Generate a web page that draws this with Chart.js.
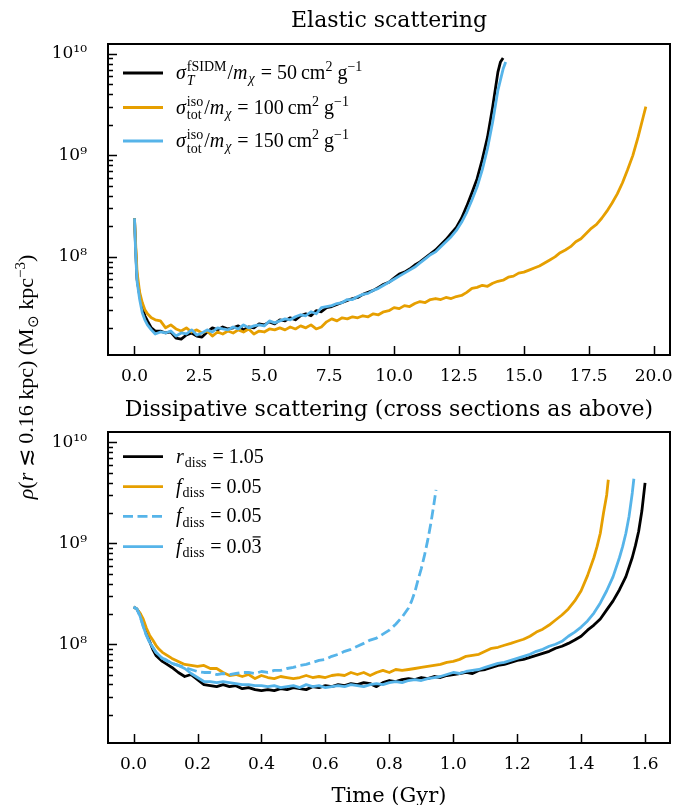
<!DOCTYPE html>
<html>
<head>
<meta charset="utf-8">
<script src="https://cdn.jsdelivr.net/npm/chart.js@4.4.1/dist/chart.umd.min.js"></script>
<style>
  body { margin: 0; background: #fff; }
  #page { position: relative; width: 686px; height: 805px; overflow: hidden; background: #fff; }
  canvas { position: absolute; left: 0; }
  .title { position: absolute; left: 60px; width: 658px; text-align: center;
           font-family: 'DejaVu Serif', serif; font-size: 22px; line-height: 24px; color: #000; white-space: nowrap; }
  #xlabel { position: absolute; left: 108px; width: 562px; top: 783px; text-align: center;
            font-family: 'DejaVu Serif', serif; font-size: 21px; line-height: 24px; }
  #ylabel { position: absolute; width: 320px; left: -134px; top: 365px; height: 24px; line-height: 24px;
            text-align: center; transform: rotate(-90deg); white-space: nowrap;
            font-family: 'Liberation Serif', serif; font-size: 22px; }
  #ylabel sub, #ylabel sup { font-size: 15px; line-height: 0; }
</style>
</head>
<body>
<div id="page">
  <canvas id="elastic" width="686" height="392" style="top:0"></canvas>
  <canvas id="dissipative" width="686" height="413" style="top:392px"></canvas>
  <div class="title" style="top:8px">Elastic scattering</div>
  <div class="title" style="top:397px">Dissipative scattering (cross sections as above)</div>
  <div id="xlabel">Time (Gyr)</div>
  <div id="ylabel"><i>ρ</i>(<i>r</i> ≲ 0.16 kpc) (M<sub>⊙</sub> kpc<sup>−3</sup>)</div>
</div>
<script>
// central density vs time, [Gyr, Msun/kpc^3]
const elasticFsidm50 = [
  [0,2.40e8],[0.05,1.12e8],[0.1,6.03e7],[0.2,4.17e7],[0.3,3.16e7],[0.4,2.63e7],[0.5,2.34e7],[0.65,2.00e7],[0.8,1.86e7],
  [1.0,1.86e7],[1.2,1.78e7],[1.4,1.82e7],[1.6,1.58e7],[1.8,1.55e7],[2.0,1.70e7],[2.2,1.78e7],[2.4,1.66e7],[2.6,1.62e7],[2.8,1.82e7],
  [3.0,2.00e7],[3.2,1.91e7],[3.4,2.04e7],[3.6,1.95e7],[3.8,2.00e7],[4.0,2.09e7],[4.2,1.91e7],[4.4,2.04e7],[4.6,2.00e7],[4.8,2.19e7],
  [5.0,2.14e7],[5.2,2.29e7],[5.4,2.19e7],[5.6,2.40e7],[5.8,2.34e7],[6.0,2.51e7],[6.2,2.40e7],[6.4,2.63e7],[6.6,2.75e7],[6.8,2.63e7],
  [7.0,2.95e7],[7.2,2.88e7],[7.4,3.16e7],[7.6,3.24e7],[7.8,3.39e7],[8.0,3.55e7],[8.2,3.72e7],[8.4,3.89e7],[8.6,3.98e7],[8.8,4.27e7],
  [9.0,4.47e7],[9.2,4.68e7],[9.4,5.01e7],[9.6,5.37e7],[9.8,5.62e7],[10.0,6.17e7],[10.2,6.76e7],[10.4,7.08e7],[10.6,7.59e7],[10.8,8.32e7],
  [11.0,8.91e7],[11.2,9.77e7],[11.4,1.07e8],[11.6,1.17e8],[11.8,1.32e8],[12.0,1.48e8],[12.2,1.70e8],[12.4,1.95e8],[12.6,2.40e8],[12.8,3.16e8],
  [13.0,4.27e8],[13.2,5.89e8],[13.4,9.12e8],[13.6,1.51e9],[13.8,3.02e9],[14.0,6.61e9],[14.1,8.32e9],[14.2,9.12e9]
];
const elasticIso100 = [
  [0,2.40e8],[0.05,1.26e8],[0.1,7.08e7],[0.2,4.47e7],[0.3,3.55e7],[0.4,3.02e7],[0.5,2.75e7],[0.65,2.51e7],[0.8,2.40e7],
  [1.0,2.34e7],[1.2,2.00e7],[1.4,2.14e7],[1.6,1.95e7],[1.8,1.86e7],[2.0,2.00e7],[2.2,1.82e7],[2.4,1.91e7],[2.6,1.78e7],[2.8,1.86e7],
  [3.0,1.66e7],[3.2,1.82e7],[3.4,1.74e7],[3.6,1.86e7],[3.8,1.78e7],[4.0,1.91e7],[4.2,1.82e7],[4.4,1.95e7],[4.6,1.74e7],[4.8,1.86e7],
  [5.0,1.82e7],[5.2,1.95e7],[5.4,1.91e7],[5.6,2.00e7],[5.8,1.91e7],[6.0,2.04e7],[6.2,1.95e7],[6.4,2.09e7],[6.6,2.00e7],[6.8,2.14e7],
  [7.0,1.95e7],[7.2,2.04e7],[7.4,2.29e7],[7.6,2.45e7],[7.8,2.34e7],[8.0,2.51e7],[8.2,2.45e7],[8.4,2.57e7],[8.6,2.51e7],[8.8,2.63e7],
  [9.0,2.57e7],[9.2,2.75e7],[9.4,2.69e7],[9.6,2.88e7],[9.8,2.95e7],[10.0,3.16e7],[10.2,3.09e7],[10.4,3.31e7],[10.6,3.24e7],[10.8,3.47e7],
  [11.0,3.63e7],[11.2,3.55e7],[11.4,3.80e7],[11.6,3.89e7],[11.8,3.80e7],[12.0,3.98e7],[12.2,3.89e7],[12.4,4.07e7],[12.6,4.17e7],[12.8,4.47e7],
  [13.0,4.90e7],[13.2,5.01e7],[13.4,5.25e7],[13.6,5.13e7],[13.8,5.50e7],[14.0,5.75e7],[14.2,5.89e7],[14.4,6.31e7],[14.6,6.46e7],[14.8,6.92e7],
  [15.0,7.08e7],[15.2,7.41e7],[15.4,7.76e7],[15.6,8.13e7],[15.8,8.71e7],[16.0,9.33e7],[16.2,1.00e8],[16.4,1.10e8],[16.6,1.17e8],[16.8,1.26e8],
  [17.0,1.41e8],[17.2,1.51e8],[17.4,1.70e8],[17.6,1.91e8],[17.8,2.09e8],[18.0,2.40e8],[18.2,2.82e8],[18.4,3.39e8],[18.6,4.17e8],[18.8,5.37e8],
  [19.0,7.24e8],[19.2,1.00e9],[19.4,1.51e9],[19.6,2.40e9],[19.7,3.02e9]
];
const elasticIso150 = [
  [0,2.40e8],[0.05,1.00e8],[0.1,5.75e7],[0.2,3.80e7],[0.3,2.82e7],[0.4,2.40e7],[0.5,2.14e7],[0.65,1.91e7],[0.8,1.74e7],
  [1.0,1.82e7],[1.2,1.78e7],[1.4,1.86e7],[1.6,1.66e7],[1.8,1.78e7],[2.0,1.74e7],[2.2,1.91e7],[2.4,1.70e7],[2.6,1.78e7],[2.8,1.91e7],
  [3.0,1.82e7],[3.2,2.00e7],[3.4,1.95e7],[3.6,1.91e7],[3.8,2.04e7],[4.0,1.95e7],[4.2,2.14e7],[4.4,2.00e7],[4.6,2.09e7],[4.8,2.14e7],
  [5.0,2.09e7],[5.2,2.34e7],[5.4,2.24e7],[5.6,2.34e7],[5.8,2.45e7],[6.0,2.40e7],[6.2,2.57e7],[6.4,2.69e7],[6.6,2.63e7],[6.8,2.88e7],
  [7.0,2.75e7],[7.2,3.16e7],[7.4,3.24e7],[7.6,3.31e7],[7.8,3.47e7],[8.0,3.55e7],[8.2,3.80e7],[8.4,3.80e7],[8.6,4.07e7],[8.8,4.27e7],
  [9.0,4.37e7],[9.2,4.68e7],[9.4,4.90e7],[9.6,5.25e7],[9.8,5.62e7],[10.0,6.03e7],[10.2,6.46e7],[10.4,6.92e7],[10.6,7.41e7],[10.8,7.94e7],
  [11.0,8.71e7],[11.2,9.55e7],[11.4,1.05e8],[11.6,1.12e8],[11.8,1.26e8],[12.0,1.41e8],[12.2,1.58e8],[12.4,1.82e8],[12.6,2.19e8],[12.8,2.75e8],
  [13.0,3.63e8],[13.2,4.90e8],[13.4,7.24e8],[13.6,1.17e9],[13.8,2.14e9],[14.0,4.37e9],[14.2,7.08e9],[14.3,8.32e9]
];

const dissR105 = [
  [0,2.34e8],[0.01,2.24e8],[0.02,2.00e8],[0.03,1.62e8],[0.04,1.29e8],[0.05,1.07e8],[0.06,8.91e7],[0.07,7.76e7],[0.08,7.24e7],[0.09,6.76e7],[0.10,6.46e7],
  [0.12,5.89e7],[0.14,5.25e7],[0.16,4.79e7],[0.18,5.01e7],[0.20,4.47e7],[0.22,3.98e7],[0.24,3.89e7],[0.26,3.80e7],[0.28,3.98e7],[0.30,3.80e7],
  [0.32,3.89e7],[0.34,3.63e7],[0.36,3.72e7],[0.38,3.55e7],[0.40,3.47e7],[0.42,3.55e7],[0.44,3.47e7],[0.46,3.63e7],[0.48,3.55e7],[0.50,3.72e7],
  [0.52,3.63e7],[0.54,3.55e7],[0.56,3.80e7],[0.58,3.72e7],[0.60,3.89e7],[0.62,3.80e7],[0.64,3.98e7],[0.66,3.89e7],[0.68,4.07e7],[0.70,3.98e7],
  [0.72,4.17e7],[0.74,4.07e7],[0.76,3.80e7],[0.78,4.17e7],[0.80,4.37e7],[0.82,4.27e7],[0.84,4.47e7],[0.86,4.57e7],[0.88,4.47e7],[0.90,4.68e7],
  [0.92,4.57e7],[0.94,4.79e7],[0.96,4.68e7],[0.98,4.90e7],[1.00,5.01e7],[1.02,5.13e7],[1.04,5.25e7],[1.06,5.13e7],[1.08,5.50e7],[1.10,5.62e7],
  [1.12,5.89e7],[1.14,6.17e7],[1.16,6.31e7],[1.18,6.61e7],[1.20,6.92e7],[1.22,7.08e7],[1.24,7.41e7],[1.26,7.76e7],[1.28,8.13e7],[1.30,8.51e7],
  [1.32,9.12e7],[1.34,9.55e7],[1.36,1.02e8],[1.38,1.10e8],[1.40,1.20e8],[1.42,1.38e8],[1.44,1.55e8],[1.46,1.78e8],[1.48,2.19e8],[1.50,2.69e8],
  [1.52,3.47e8],[1.54,4.68e8],[1.56,7.24e8],[1.57,9.55e8],[1.58,1.32e9],[1.59,2.09e9],[1.60,3.98e9]
];
const dissF005 = [
  [0,2.34e8],[0.01,2.24e8],[0.02,2.04e8],[0.03,1.78e8],[0.04,1.45e8],[0.05,1.23e8],[0.06,1.10e8],[0.07,9.77e7],[0.08,8.91e7],[0.09,8.32e7],[0.10,7.94e7],
  [0.12,7.24e7],[0.14,6.76e7],[0.16,6.31e7],[0.18,6.17e7],[0.20,6.03e7],[0.22,6.17e7],[0.24,5.75e7],[0.26,5.75e7],[0.28,5.25e7],[0.30,4.90e7],
  [0.32,5.01e7],[0.34,4.79e7],[0.36,5.01e7],[0.38,4.57e7],[0.40,4.90e7],[0.42,4.68e7],[0.44,4.57e7],[0.46,4.79e7],[0.48,4.68e7],[0.50,4.57e7],
  [0.52,4.68e7],[0.54,4.90e7],[0.56,4.68e7],[0.58,4.79e7],[0.60,4.68e7],[0.62,4.90e7],[0.64,5.01e7],[0.66,4.90e7],[0.68,5.25e7],[0.70,5.01e7],
  [0.72,5.25e7],[0.74,4.90e7],[0.76,5.25e7],[0.78,5.50e7],[0.80,5.25e7],[0.82,5.62e7],[0.84,5.50e7],[0.86,5.62e7],[0.88,5.75e7],[0.90,5.89e7],
  [0.92,6.03e7],[0.94,6.17e7],[0.96,6.31e7],[0.98,6.61e7],[1.00,6.76e7],[1.02,7.08e7],[1.04,7.59e7],[1.06,7.76e7],[1.08,7.94e7],[1.10,8.51e7],
  [1.12,9.12e7],[1.14,9.33e7],[1.16,9.77e7],[1.18,1.02e8],[1.20,1.07e8],[1.22,1.12e8],[1.24,1.20e8],[1.26,1.32e8],[1.28,1.41e8],[1.30,1.55e8],
  [1.32,1.74e8],[1.34,1.95e8],[1.36,2.24e8],[1.38,2.69e8],[1.40,3.39e8],[1.42,4.79e8],[1.44,7.24e8],[1.45,9.33e8],[1.46,1.26e9],[1.47,2.00e9],
  [1.48,3.02e9],[1.485,4.27e9]
];
const dissF005Dashed = [
  [0,2.34e8],[0.01,2.24e8],[0.02,1.91e8],[0.03,1.51e8],[0.04,1.23e8],[0.05,1.05e8],[0.06,9.33e7],[0.07,8.32e7],[0.08,7.76e7],[0.09,7.24e7],[0.10,6.92e7],
  [0.12,6.46e7],[0.14,6.17e7],[0.16,5.89e7],[0.18,5.62e7],[0.20,5.37e7],[0.22,5.25e7],[0.24,5.25e7],[0.26,5.01e7],[0.28,5.13e7],[0.30,5.01e7],
  [0.32,5.13e7],[0.34,5.25e7],[0.36,5.25e7],[0.38,5.13e7],[0.40,5.37e7],[0.42,5.25e7],[0.44,5.50e7],[0.46,5.50e7],[0.48,5.75e7],[0.50,5.89e7],
  [0.52,6.17e7],[0.54,6.31e7],[0.56,6.61e7],[0.58,6.92e7],[0.60,7.08e7],[0.62,7.59e7],[0.64,7.94e7],[0.66,8.51e7],[0.68,8.91e7],[0.70,9.55e7],
  [0.72,1.02e8],[0.74,1.10e8],[0.76,1.15e8],[0.78,1.26e8],[0.80,1.38e8],[0.82,1.58e8],[0.84,1.86e8],[0.86,2.29e8],[0.87,2.69e8],[0.88,3.31e8],
  [0.89,4.37e8],[0.90,5.62e8],[0.91,7.59e8],[0.92,1.07e9],[0.93,1.58e9],[0.94,2.51e9],[0.946,3.39e9]
];
const dissF0033 = [
  [0,2.34e8],[0.01,2.24e8],[0.02,1.91e8],[0.03,1.51e8],[0.04,1.23e8],[0.05,1.05e8],[0.06,9.33e7],[0.07,8.32e7],[0.08,7.76e7],[0.09,7.24e7],[0.10,7.08e7],
  [0.12,6.46e7],[0.14,6.17e7],[0.16,5.75e7],[0.18,5.13e7],[0.20,4.68e7],[0.22,4.27e7],[0.24,4.27e7],[0.26,4.17e7],[0.28,4.27e7],[0.30,4.17e7],
  [0.32,4.07e7],[0.34,3.98e7],[0.36,3.98e7],[0.38,3.89e7],[0.40,3.89e7],[0.42,3.80e7],[0.44,3.89e7],[0.46,3.72e7],[0.48,3.80e7],[0.50,3.89e7],
  [0.52,3.72e7],[0.54,3.98e7],[0.56,3.80e7],[0.58,3.89e7],[0.60,3.72e7],[0.62,3.80e7],[0.64,3.89e7],[0.66,3.80e7],[0.68,3.98e7],[0.70,3.89e7],
  [0.72,3.80e7],[0.74,3.98e7],[0.76,4.07e7],[0.78,3.98e7],[0.80,4.17e7],[0.82,4.27e7],[0.84,4.17e7],[0.86,4.37e7],[0.88,4.47e7],[0.90,4.37e7],
  [0.92,4.57e7],[0.94,4.68e7],[0.96,4.79e7],[0.98,5.01e7],[1.00,5.25e7],[1.02,5.13e7],[1.04,5.37e7],[1.06,5.50e7],[1.08,5.62e7],[1.10,5.89e7],
  [1.12,6.17e7],[1.14,6.46e7],[1.16,6.61e7],[1.18,6.92e7],[1.20,7.24e7],[1.22,7.59e7],[1.24,7.94e7],[1.26,8.51e7],[1.28,8.91e7],[1.30,9.55e7],
  [1.32,1.00e8],[1.34,1.07e8],[1.36,1.20e8],[1.38,1.32e8],[1.40,1.48e8],[1.42,1.70e8],[1.44,2.04e8],[1.46,2.57e8],[1.48,3.39e8],[1.50,4.68e8],
  [1.52,7.24e8],[1.53,9.33e8],[1.54,1.26e9],[1.55,1.86e9],[1.56,3.16e9],[1.565,4.37e9]
];

const yTickValues = [1e8, 1e9, 1e10];

// legend labels as math pieces: {t} roman, {i} italic, {sup, sub} scripts, {bar} overlined
const elasticLabels = [
  [{i: 'σ'}, {sup: 'fSIDM', sub: 'T', subI: true}, {t: '/'}, {i: 'm'}, {sub: 'χ', subI: true}, {t: ' = 50\u2009cm'}, {sup: '2'}, {t: '\u2009g'}, {sup: '−1'}],
  [{i: 'σ'}, {sup: 'iso', sub: 'tot'}, {t: '/'}, {i: 'm'}, {sub: 'χ', subI: true}, {t: ' = 100\u2009cm'}, {sup: '2'}, {t: '\u2009g'}, {sup: '−1'}],
  [{i: 'σ'}, {sup: 'iso', sub: 'tot'}, {t: '/'}, {i: 'm'}, {sub: 'χ', subI: true}, {t: ' = 150\u2009cm'}, {sup: '2'}, {t: '\u2009g'}, {sup: '−1'}]
];
const dissLabels = [
  [{i: 'r'}, {sub: 'diss'}, {t: ' = 1.05'}],
  [{i: 'f'}, {sub: 'diss'}, {t: ' = 0.05'}],
  [{i: 'f'}, {sub: 'diss'}, {t: ' = 0.05'}],
  [{i: 'f'}, {sub: 'diss'}, {t: ' = 0.0'}, {bar: '3'}]
];

const BLACK = '#000000', ORANGE = '#E69F00', BLUE = '#56B4E9';
const MATH_FONT = "'Liberation Serif', serif";
const TICK_FONT = 'DejaVu Serif';
const LEGEND_SIZE = 20;

const supDigits = '⁰¹²³⁴⁵⁶⁷⁸⁹';
function supNum(n) {
  return String(n).split('').map(c => supDigits[+c]).join('');
}

function toPoints(pairs) {
  return pairs.map(p => ({x: p[0], y: p[1]}));
}

function drawMath(ctx, x, y, parts, size) {
  const small = size * 0.7;
  parts.forEach(p => {
    if (p.t !== undefined) {
      ctx.font = `${size}px ${MATH_FONT}`;
      ctx.fillText(p.t, x, y);
      x += ctx.measureText(p.t).width;
    } else if (p.i !== undefined) {
      ctx.font = `italic ${size}px ${MATH_FONT}`;
      ctx.fillText(p.i, x, y);
      x += ctx.measureText(p.i).width + 1;
    } else if (p.bar !== undefined) {
      ctx.font = `${size}px ${MATH_FONT}`;
      const w = ctx.measureText(p.bar).width;
      ctx.fillText(p.bar, x, y);
      ctx.fillRect(x + 1, y - size * 0.82, w - 2, 1.2);
      x += w;
    } else {
      let w = 0;
      if (p.sup !== undefined) {
        ctx.font = `${small}px ${MATH_FONT}`;
        ctx.fillText(p.sup, x, y - size * 0.4);
        w = Math.max(w, ctx.measureText(p.sup).width);
      }
      if (p.sub !== undefined) {
        ctx.font = `${p.subI ? 'italic ' : ''}${small}px ${MATH_FONT}`;
        ctx.fillText(p.sub, x, y + size * (p.sup !== undefined ? 0.28 : 0.22));
        w = Math.max(w, ctx.measureText(p.sub).width);
      }
      x += w + 1;
    }
  });
}

// box, inward ticks and the legend for one panel
function makeFramePlugin(legendRows, legendItems) {
  return {
    id: 'frame',
    afterDraw(chart) {
      const {ctx, chartArea: a, scales: {x, y}} = chart;
      ctx.save();
      ctx.strokeStyle = '#000';
      ctx.lineWidth = 1.5;
      ctx.beginPath();
      x.ticks.forEach(t => {
        const px = Math.round(x.getPixelForValue(t.value)) + 0.5;
        ctx.moveTo(px, a.bottom);
        ctx.lineTo(px, a.bottom - 9);
      });
      const e0 = Math.floor(Math.log10(y.min)), e1 = Math.ceil(Math.log10(y.max));
      for (let e = e0; e <= e1; e++) {
        for (let m = 1; m <= 9; m++) {
          const v = m * Math.pow(10, e);
          if (v < y.min || v > y.max) continue;
          const py = Math.round(y.getPixelForValue(v)) + 0.5;
          ctx.moveTo(a.left, py);
          ctx.lineTo(a.left + (m === 1 ? 9 : 5), py);
        }
      }
      ctx.stroke();
      ctx.lineWidth = 2;
      ctx.strokeRect(a.left, a.top, a.right - a.left, a.bottom - a.top);

      ctx.textBaseline = 'alphabetic';
      legendItems.forEach((it, i) => {
        const ry = legendRows[i];
        ctx.strokeStyle = it.color;
        ctx.lineWidth = 2.8;
        ctx.setLineDash(it.dash || []);
        ctx.beginPath();
        ctx.moveTo(123, ry);
        ctx.lineTo(163, ry);
        ctx.stroke();
        ctx.setLineDash([]);
        ctx.fillStyle = '#000';
        drawMath(ctx, 176, ry + 6, it.label, LEGEND_SIZE);
      });
      ctx.restore();
    }
  };
}

function makePanel(id, cfg) {
  const datasets = cfg.series.map((s, i) => ({
    data: toPoints(s.data),
    borderColor: s.color,
    borderDash: s.dash || [],
    borderWidth: 2.8,
    pointRadius: 0,
    fill: false,
    tension: 0,
    order: cfg.series.length - i
  }));
  const legendItems = cfg.series.map(s => ({ color: s.color, dash: s.dash, label: s.label }));
  return new Chart(document.getElementById(id), {
    type: 'line',
    data: { datasets },
    options: {
      responsive: false,
      animation: false,
      devicePixelRatio: 1,
      layout: { padding: { top: cfg.top, right: 16, left: 0, bottom: 0 } },
      elements: { line: { borderJoinStyle: 'round', borderCapStyle: 'butt' } },
      plugins: { legend: { display: false }, tooltip: { enabled: false } },
      scales: {
        x: {
          type: 'linear',
          min: cfg.xMin,
          max: cfg.xMax,
          grid: { display: false },
          border: { display: false },
          afterFit: s => { s.height = cfg.xAxisHeight; },
          ticks: {
            stepSize: cfg.xStep,
            includeBounds: false,
            autoSkip: false,
            maxRotation: 0,
            padding: 3,
            color: '#000',
            font: { family: TICK_FONT, size: 17 },
            callback: v => Number(v).toFixed(1)
          }
        },
        y: {
          type: 'logarithmic',
          min: cfg.yMin,
          max: cfg.yMax,
          grid: { display: false },
          border: { display: false },
          afterFit: s => { s.width = 108; },
          afterBuildTicks: s => { s.ticks = yTickValues.map(v => ({ value: v })); },
          ticks: {
            autoSkip: false,
            padding: 13,
            color: '#000',
            font: { family: TICK_FONT, size: 17 },
            callback: v => '10' + supNum(Math.round(Math.log10(v)))
          }
        }
      }
    },
    plugins: [makeFramePlugin(cfg.legendRows, legendItems)]
  });
}

makePanel('elastic', {
  top: 44, xAxisHeight: 37,
  xMin: -1.02, xMax: 20.63, xStep: 2.5,
  yMin: 1.08e7, yMax: 1.25e10,
  legendRows: [73, 107.5, 141],
  series: [
    { data: elasticFsidm50, color: BLACK, label: elasticLabels[0] },
    { data: elasticIso100, color: ORANGE, label: elasticLabels[1] },
    { data: elasticIso150, color: BLUE, label: elasticLabels[2] }
  ]
});

makePanel('dissipative', {
  top: 40, xAxisHeight: 62,
  xMin: -0.08, xMax: 1.678, xStep: 0.2,
  yMin: 1.05e7, yMax: 1.27e10,
  legendRows: [64.7, 94.7, 124.3, 154.7],
  series: [
    { data: dissR105, color: BLACK, label: dissLabels[0] },
    { data: dissF005, color: ORANGE, label: dissLabels[1] },
    { data: dissF005Dashed, color: BLUE, dash: [10, 4.5], label: dissLabels[2] },
    { data: dissF0033, color: BLUE, label: dissLabels[3] }
  ]
});
</script>
</body>
</html>
